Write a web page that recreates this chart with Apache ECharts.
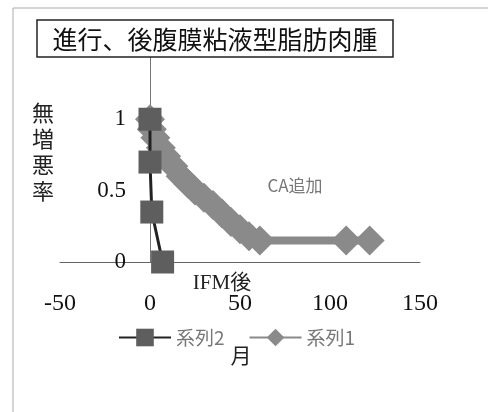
<!DOCTYPE html>
<html><head><meta charset="utf-8">
<script src="https://cdn.jsdelivr.net/npm/echarts@6/dist/echarts.min.js"></script>
<style>html,body{margin:0;padding:0;background:#fff}#c{width:488px;height:412px}</style>
</head><body><div id="c"></div>
<script>
const titleText = '進行、後腹膜粘液型脂肪肉腫';
const yName = '無増悪率';
const xName = 'IFM後';
const xUnit = '月';
const note = 'CA追加';
const series1Name = '系列1';
const series2Name = '系列2';
const series1X = [0, 1, 3, 6, 9, 13, 17, 21, 25, 30, 35, 40, 45, 50, 55, 61, 109, 122];
const series1Y = [1.0, 0.93, 0.87, 0.8, 0.74, 0.67, 0.6, 0.55, 0.5, 0.45, 0.4, 0.34, 0.28, 0.23, 0.18, 0.15, 0.15, 0.15];
const series2X = [0, 0, 1, 7];
const series2Y = [1.0, 0.7, 0.35, 0.0];
const xTicks = [-50, 0, 50, 100, 150];
const yTicks = [0, 0.5, 1];

const serif = '"Liberation Serif", "Noto Sans CJK JP", serif';
const cjk = '"Noto Sans CJK JP", serif';
const chart = echarts.init(document.getElementById('c'));
chart.setOption({
  animation: false,
  backgroundColor: '#fff',
  grid: { left: 60, right: 68, top: 55, bottom: 150, containLabel: false },
  legend: {
    data: [series2Name, series1Name],
    left: 113, top: 323,
    itemWidth: 52, itemHeight: 22, itemGap: 24,
    textStyle: { fontFamily: cjk, fontSize: 19, color: '#777' }
  },
  xAxis: {
    type: 'value', min: -50, max: 150, interval: 50,
    axisLine: { onZero: true, lineStyle: { color: '#666', width: 1 } },
    axisTick: { show: false },
    splitLine: { show: false },
    axisLabel: { margin: 30, fontFamily: serif, fontSize: 24, color: '#111',
      formatter: v => xTicks.includes(v) ? String(v) : '' }
  },
  yAxis: {
    type: 'value', min: 0, max: 1.45, interval: 0.5,
    axisLine: { show: true, onZero: true, lineStyle: { color: '#777', width: 1 } },
    axisTick: { show: false },
    splitLine: { show: false },
    axisLabel: { margin: -66, fontFamily: serif, fontSize: 23, color: '#111', showMaxLabel: false,
      formatter: v => yTicks.includes(v) ? String(v) : '' }
  },
  series: [
    {
      name: series1Name, type: 'line',
      data: series1X.map((x, i) => [x, series1Y[i]]),
      symbol: 'diamond', symbolSize: 30, showAllSymbol: true, showSymbol: true,
      lineStyle: { color: '#8a8a8a', width: 8 },
      itemStyle: { color: '#8a8a8a' }, z: 2
    },
    {
      name: series2Name, type: 'line',
      data: series2X.map((x, i) => [x, series2Y[i]]),
      symbol: 'rect', symbolSize: 23, showAllSymbol: true,
      lineStyle: { color: '#222', width: 3 },
      itemStyle: { color: '#5e5e5e' }, z: 3
    }
  ],
  graphic: [
    { type: 'line', shape: { x1: 13, y1: 8, x2: 488, y2: 8 }, style: { stroke: '#aaa', lineWidth: 1 } },
    { type: 'line', shape: { x1: 13, y1: 8, x2: 13, y2: 412 }, style: { stroke: '#aaa', lineWidth: 1 } },
    { type: 'rect', shape: { x: 37, y: 20, width: 356, height: 37 }, style: { fill: '#fff', stroke: '#222', lineWidth: 1.5 }, z: 10 },
    { type: 'text', x: 215, y: 39, z: 11, style: { text: titleText, font: '25px "Noto Sans CJK JP"', fill: '#111', textAlign: 'center', textVerticalAlign: 'middle' } },
    { type: 'text', x: 43, y: 100, z: 11, style: { text: yName.split('').join('\n'), font: '22px "Noto Sans CJK JP"', lineHeight: 26, fill: '#222', textAlign: 'center' } },
    { type: 'text', x: 222, y: 283, z: 11, style: { text: xName, font: '21px "Liberation Serif", "Noto Sans CJK JP"', fill: '#222', textAlign: 'center', textVerticalAlign: 'middle' } },
    { type: 'text', x: 241, y: 355, z: 11, style: { text: xUnit, font: '21px "Noto Sans CJK JP"', fill: '#222', textAlign: 'center', textVerticalAlign: 'middle' } },
    { type: 'text', x: 295, y: 186, z: 11, style: { text: note, font: '17px "Noto Sans CJK JP"', fill: '#777', textAlign: 'center', textVerticalAlign: 'middle' } }
  ]
});
</script></body></html>
